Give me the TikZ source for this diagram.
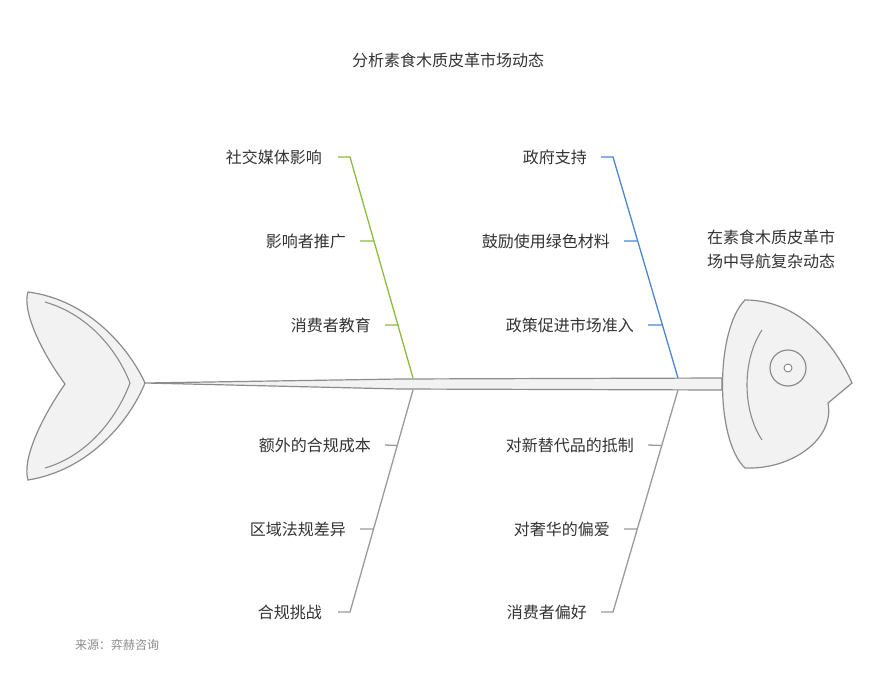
\documentclass[tikz,border=0pt]{standalone}
\usepackage{fontspec}
\setmainfont{Noto Sans CJK SC}
\usetikzlibrary{positioning,calc}
\definecolor{bonegreen}{HTML}{8DBB3F}
\definecolor{boneblue}{HTML}{4C86D2}
\definecolor{bonegray}{HTML}{9A9A9A}
\definecolor{fishline}{HTML}{8C8C8C}
\definecolor{fishfill}{HTML}{F2F2F2}
\tikzset{
  lbl/.style={font=\fontsize{16}{18}\selectfont, text=black!80, inner sep=0pt, anchor=east},
  bone/.style={line width=1.3pt},
  fish/.style={draw=fishline, fill=fishfill, line width=1.2pt}
}
\begin{document}
\begin{tikzpicture}[x=1pt,y=-1pt]
\useasboundingbox[fill=white] (0,0) rectangle (896,674);
% title
\node[font=\fontsize{16}{18}\selectfont, text=black!80] (title) at (448,60) {分析素食木质皮革市场动态};
% spine
\draw[fish] (145,383) -- (400,379) -- (722,378) -- (722,390) -- (400,389) -- cycle;
% tail
\draw[fish] (28,292) .. controls (90,300) and (130,350) .. (145,383)
  .. controls (130,420) and (90,470) .. (28,480)
  .. controls (22,460) and (40,420) .. (65,384)
  .. controls (40,350) and (22,310) .. cycle;
\draw[fishline, line width=1.1pt] (45,302) .. controls (90,315) and (118,352) .. (130,383)
  .. controls (118,415) and (90,455) .. (45,468);
% head
\draw[fish] (745,300) .. controls (800,300) and (835,345) .. (852,383)
  -- (828,403) .. controls (835,440) and (790,470) .. (745,468)
  .. controls (715,440) and (715,330) .. cycle;
\draw[fishline, line width=1.1pt] (762,330) .. controls (742,360) and (742,410) .. (762,440);
\draw[fish] (788,368) circle (18);
\draw[fishline, fill=white, line width=1pt] (788,368) circle (4);
% bones
\coordinate (g1) at (350,157); \coordinate (g2) at (413,378);
\coordinate (b1) at (613,157); \coordinate (b2) at (678,378);
\coordinate (l1) at (413,390); \coordinate (l2) at (350,612);
\coordinate (r1) at (678,390); \coordinate (r2) at (613,612);
\draw[bone, bonegreen] (338,157) -- (g1) -- (g2);
\draw[bone, boneblue] (601,157) -- (b1) -- (b2);
\draw[bone, bonegray] (l1) -- (l2) -- (338,612);
\draw[bone, bonegray] (r1) -- (r2) -- (601,612);
% top left
\node[lbl] (sm) at (322,157) {社交媒体影响};
\node[lbl] (ip) at (346,241) {影响者推广};
\node[lbl] (ce) at (371,325) {消费者教育};
\draw[bone, bonegreen] ($(ip.east)+(14,0)$) -- ($(g1)!0.38!(g2)$);
\draw[bone, bonegreen] ($(ce.east)+(14,0)$) -- ($(g1)!0.76!(g2)$);
% top right
\node[lbl] (gs) at (587,157) {政府支持};
\node[lbl] (gm) at (610,241) {鼓励使用绿色材料};
\node[lbl] (pm) at (634,325) {政策促进市场准入};
\draw[bone, boneblue] ($(gm.east)+(14,0)$) -- ($(b1)!0.38!(b2)$);
\draw[bone, boneblue] ($(pm.east)+(14,0)$) -- ($(b1)!0.76!(b2)$);
% bottom left
\node[lbl] (ec) at (371,445) {额外的合规成本};
\node[lbl] (rd) at (346,529) {区域法规差异};
\node[lbl] (cc) at (322,612) {合规挑战};
\draw[bone, bonegray] ($(ec.east)+(14,0)$) -- ($(l1)!0.25!(l2)$);
\draw[bone, bonegray] ($(rd.east)+(14,0)$) -- ($(l1)!0.626!(l2)$);
% bottom right
\node[lbl] (rs) at (634,445) {对新替代品的抵制};
\node[lbl] (lx) at (610,529) {对奢华的偏爱};
\node[lbl] (cp) at (587,612) {消费者偏好};
\draw[bone, bonegray] ($(rs.east)+(14,0)$) -- ($(r1)!0.25!(r2)$);
\draw[bone, bonegray] ($(lx.east)+(14,0)$) -- ($(r1)!0.626!(r2)$);
% head text
\node[font=\fontsize{16}{24}\selectfont, text=black!80, align=left, anchor=north west, inner sep=0pt] (ht) at (707,230) {在素食木质皮革市\\场中导航复杂动态};
% source
\node[font=\fontsize{12}{14}\selectfont, text=black!45, anchor=west, inner sep=0pt] (src) at (75,645) {来源：弈赫咨询};
\end{tikzpicture}
\end{document}
